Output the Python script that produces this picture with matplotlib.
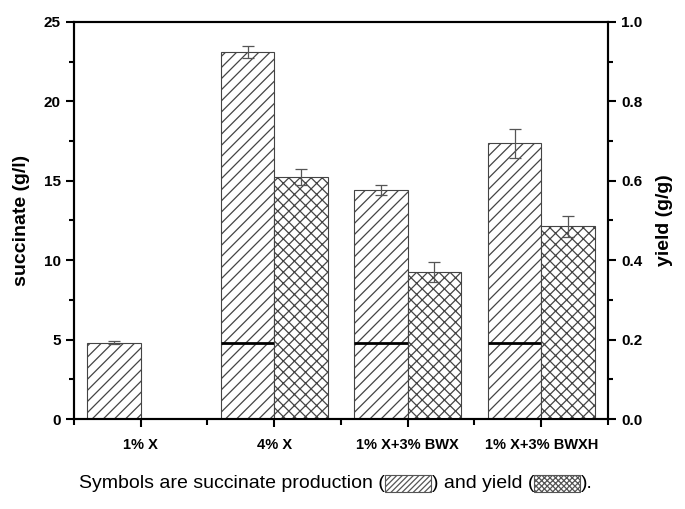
import numpy as np
import matplotlib
matplotlib.use("Agg")
import matplotlib.pyplot as plt
from matplotlib.patches import Rectangle
from matplotlib.ticker import MultipleLocator

categories = ["1% X", "4% X", "1% X+3% BWX", "1% X+3% BWXH"]
succinate = [4.8, 23.1, 14.4, 17.35]
succinate_err = [0.1, 0.37, 0.31, 0.92]
yield_vals = [np.nan, 0.609, 0.370, 0.485]
yield_err = [np.nan, 0.020, 0.026, 0.026]

plt.rcParams['font.family'] = ['Liberation Sans', 'DejaVu Sans']
plt.rcParams['hatch.linewidth'] = 0.9
plt.rcParams['hatch.color'] = 'black'

fig = plt.figure(figsize=(6.85, 5.09), dpi=100)
ax = fig.add_axes([0.108, 0.1768, 0.7796, 0.78])
ax2 = ax.twinx()

x = np.arange(1, len(categories) + 1)
w = 0.4
ax.bar(x - w / 2, succinate, width=w, facecolor='white', edgecolor='#444444',
       linewidth=0.8, hatch='///', zorder=2)
ax.errorbar(x - w / 2, succinate, yerr=succinate_err, fmt='none', ecolor='#555555',
            elinewidth=0.9, capsize=4, capthick=0.9, zorder=3)
ax.hlines([succinate[0]] * 3, x[1:] - w, x[1:], colors='black', linewidth=2, zorder=4)

ax2.bar(x + w / 2, yield_vals, width=w, facecolor='white', edgecolor='#444444',
        linewidth=0.8, hatch='xxx', zorder=2)
ax2.errorbar(x + w / 2, yield_vals, yerr=yield_err, fmt='none', ecolor='#555555',
             elinewidth=0.9, capsize=4, capthick=0.9, zorder=3)

ax.set_xlim(0.5, 4.5)
ax.set_ylim(0, 25)
ax2.set_ylim(0, 1.0)
ax.set_xticks(x)
ax.set_xticklabels(categories, fontweight='bold', fontsize=10.5)
ax.xaxis.set_minor_locator(MultipleLocator(1.0, offset=0.5))
ax.yaxis.set_major_locator(MultipleLocator(5))
ax.yaxis.set_minor_locator(MultipleLocator(2.5))
ax2.yaxis.set_major_locator(MultipleLocator(0.2))
ax2.yaxis.set_minor_locator(MultipleLocator(0.1))
ax2.yaxis.set_major_formatter(matplotlib.ticker.FormatStrFormatter('%.1f'))

for a in (ax, ax2):
    for s in a.spines.values():
        s.set_linewidth(1.5)
    a.tick_params(which='major', direction='out', length=6, width=1.5, labelsize=11)
    a.tick_params(which='minor', direction='out', length=3.5, width=1.5)
    for lab in a.get_yticklabels():
        lab.set_fontweight('bold')
ax.tick_params(axis='x', which='major', pad=8, labelsize=10.5)
ax.tick_params(axis='x', which='minor', length=4)
ax.tick_params(axis='y', which='both', right=False)
ax2.tick_params(axis='x', which='both', bottom=False, top=False)

ax.set_ylabel("succinate (g/l)", fontweight='bold', fontsize=14, labelpad=10)
ax2.set_ylabel("yield (g/g)", fontweight='bold', fontsize=14, labelpad=10)

# caption with inline hatched symbols
fig.canvas.draw()
renderer = fig.canvas.get_renderer()
pieces = ["Symbols are succinate production (", "SYM1", ") and yield (", "SYM2", ")."]
cap_y = 1 - 483 / 509
fs = 14
sym_w, sym_h = 46, 17
texts_w = []
for p in pieces:
    if p.startswith("SYM"):
        texts_w.append(sym_w + 1)
    else:
        t = fig.text(0, 0, p, fontsize=fs)
        bb = t.get_window_extent(renderer)
        texts_w.append(bb.width)
        t.remove()
total = sum(texts_w)
cx = 336
xpix = cx - total / 2
for p, wpx in zip(pieces, texts_w):
    if p.startswith("SYM"):
        hatch = '//////' if p == "SYM1" else 'xxxxxx'
        r = Rectangle((xpix / 685, cap_y - (sym_h / 2) / 509), sym_w / 685, sym_h / 509,
                      transform=fig.transFigure, facecolor='white', edgecolor='#555555',
                      linewidth=0.8, hatch=hatch)
        fig.patches.append(r)
    else:
        fig.text(xpix / 685, cap_y, p, fontsize=fs, va='center', ha='left')
    xpix += wpx

fig.savefig("out.png", dpi=100)
